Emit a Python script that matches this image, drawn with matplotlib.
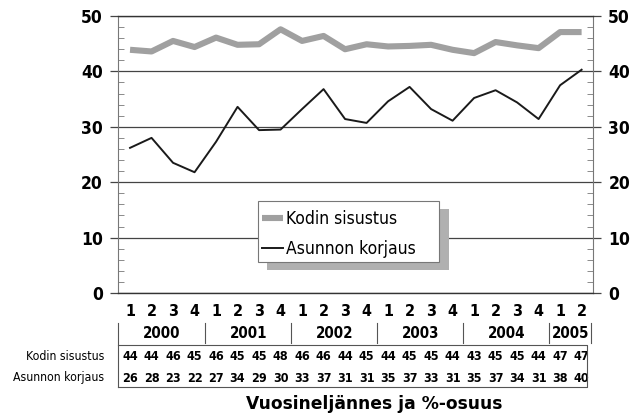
import matplotlib
matplotlib.use("Agg")
import matplotlib.pyplot as plt
import matplotlib.transforms as mtransforms
from matplotlib.lines import Line2D
from matplotlib.patches import Rectangle
from matplotlib.ticker import MultipleLocator

YEARS = ["2000", "2001", "2002", "2003", "2004", "2005"]
QUARTERS = ["1", "2", "3", "4"] * 5 + ["1", "2"]
SERIES = ["Kodin sisustus", "Asunnon korjaus"]
KODIN = [43.9, 43.6, 45.5, 44.4, 46.1, 44.8, 44.9, 47.6, 45.5, 46.4, 44.0,
         44.9, 44.5, 44.6, 44.8, 43.9, 43.3, 45.3, 44.7, 44.2, 47.1, 47.1]
ASUNNON = [26.2, 28.0, 23.5, 21.8, 27.3, 33.6, 29.4, 29.5, 33.2, 36.8, 31.4,
           30.7, 34.6, 37.2, 33.2, 31.1, 35.2, 36.6, 34.4, 31.4, 37.5, 40.3]
KODIN_TABLE = [44, 44, 46, 45, 46, 45, 45, 48, 46, 46, 44, 45, 44, 45, 45, 44,
               43, 45, 45, 44, 47, 47]
ASUNNON_TABLE = [26, 28, 23, 22, 27, 34, 29, 30, 33, 37, 31, 31, 35, 37, 33, 31,
                 35, 37, 34, 31, 38, 40]

W, H = 636, 413
plt.rcParams["font.family"] = ["DejaVu Sans"]
plt.rcParams["font.stretch"] = "condensed"


def fx(px):
    return px / W


def fy(py):
    return 1 - py / H


fig = plt.figure(figsize=(W / 100, H / 100), dpi=100)
ax = fig.add_axes([fx(118), fy(293), 475 / W, (293 - 16) / H])

xs = list(range(len(QUARTERS)))
ax.plot(xs, KODIN, color="#a0a0a0", linewidth=4.4, solid_capstyle="butt", zorder=3,
        label=SERIES[0])
ax.plot(xs, ASUNNON, color="#1a1a1a", linewidth=1.4, zorder=4, label=SERIES[1])

ax.set_xlim(-0.56, 21.53)
ax.set_ylim(0, 50)
ax.yaxis.set_major_locator(MultipleLocator(10))
ax.yaxis.set_minor_locator(MultipleLocator(2))
ax.grid(True, axis="y", color="#444444", linewidth=0.9)
ax.tick_params(axis="y", which="major", direction="out", length=6, width=0.9,
               color="#444444", labelsize=12.5, left=True, right=True,
               labelleft=True, labelright=True, pad=5)
ax.tick_params(axis="y", which="minor", direction="in", length=4, width=0.6,
               color="#777777", left=True, right=True)
for lab in ax.get_yticklabels():
    lab.set_fontweight("bold")
ax.set_xticks([])
for side in ["left", "right"]:
    ax.spines[side].set_color("#777777")
    ax.spines[side].set_linewidth(0.8)
for side in ["top", "bottom"]:
    ax.spines[side].set_color("#333333")
    ax.spines[side].set_linewidth(1.0)

trans = mtransforms.blended_transform_factory(ax.transData, fig.transFigure)

# quarter labels
for x, q in zip(xs, QUARTERS):
    ax.text(x, fy(312), q, transform=trans, ha="center", va="center",
            fontsize=11.5, fontweight="bold", clip_on=False)

# year labels and separators
bounds = [-0.56, 3.5, 7.5, 11.5, 15.5, 19.5, 21.44]
for i, year in enumerate(YEARS):
    mid = (bounds[i] + bounds[i + 1]) / 2
    ax.text(mid, fy(333), year, transform=trans, ha="center", va="center",
            fontsize=10.8, fontweight="bold", clip_on=False)
for b in bounds:
    y0 = fy(387) if b == bounds[0] else fy(343)
    fig.add_artist(Line2D([b, b], [fy(323), y0], transform=trans,
                          color="#555555", linewidth=0.8))

# table box
tab_r = 21.26
fig.add_artist(Line2D([-0.56, tab_r, tab_r, -0.56], [fy(345), fy(345), fy(387), fy(387)],
                      transform=trans, color="#555555", linewidth=0.8))
for x, k, a in zip(xs, KODIN_TABLE, ASUNNON_TABLE):
    ax.text(x, fy(357), str(k), transform=trans, ha="center", va="center",
            fontsize=9, fontweight="bold", clip_on=False)
    ax.text(x, fy(378), str(a), transform=trans, ha="center", va="center",
            fontsize=9, fontweight="bold", clip_on=False)
fig.text(fx(104), fy(357), SERIES[0], ha="right", va="center", fontsize=8.8)
fig.text(fx(104), fy(378), SERIES[1], ha="right", va="center", fontsize=8.8)

fig.text(fx(374), fy(404), "Vuosineljännes ja %-osuus", ha="center", va="center",
         fontsize=12.3, fontweight="heavy", fontstretch="normal")

# legend: drawn frame + offset stippled shadow, entries on top
ax.add_patch(Rectangle((fx(267), fy(270)), fx(449) - fx(267), fy(209) - fy(270),
                       transform=fig.transFigure, facecolor="#b0b0b0", edgecolor="none",
                       hatch="....", clip_on=False, zorder=5))
ax.add_patch(Rectangle((fx(258), fy(262)), fx(439) - fx(258), fy(201) - fy(262),
                       transform=fig.transFigure, facecolor="white", edgecolor="#777777",
                       linewidth=0.8, clip_on=False, zorder=5.5))
leg = ax.legend(loc="upper left", bbox_to_anchor=(fx(259), fy(207)),
                bbox_transform=fig.transFigure, borderaxespad=0, frameon=False,
                fontsize=12.5, handlelength=1.2, handletextpad=0.15, borderpad=0.2,
                labelspacing=0.68)
leg.set_zorder(6)

fig.savefig("out.png", dpi=100)
